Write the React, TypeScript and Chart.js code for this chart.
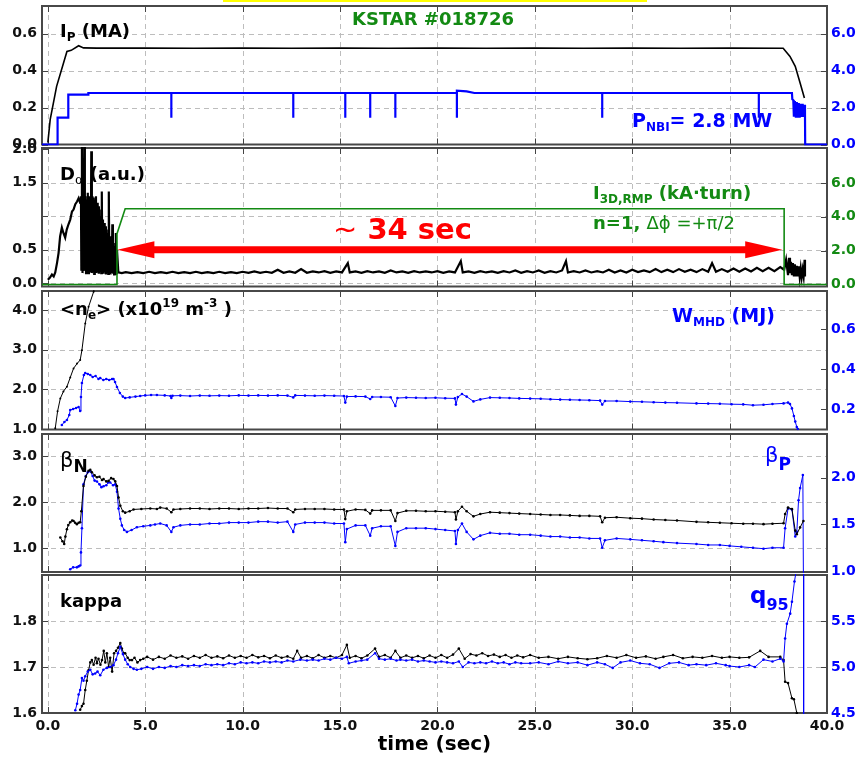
import React, { useEffect, useRef } from 'react';
import { Chart, registerables } from 'chart.js';
Chart.register(...registerables);

const FONT = "'DejaVu Sans', 'Liberation Sans', sans-serif";
const BLUE = '#0000ff';
const GREEN = '#138a13';
const RED = '#ff0000';

// ---------- axis ticks ----------
const xTicks = [0, 5, 10, 15, 20, 25, 30, 35, 40];
const xGrid = [0, 5, 10, 15, 20, 25, 30, 35];
const p1LeftTicks = [0, 0.2, 0.4, 0.6];
const p1RightTicks = [0, 2, 4, 6];
const p2LeftTicks = [0, 0.5, 1.5, 2.0];
const p2LeftGrid = [0, 0.5, 1.0, 1.5];
const p2RightTicks = [0, 2, 4, 6];
const p3LeftTicks = [1, 2, 3, 4];
const p3RightTicks = [0.2, 0.4, 0.6];
const p4LeftTicks = [1, 2, 3];
const p4RightTicks = [1.0, 1.5, 2.0];
const p5LeftTicks = [1.6, 1.7, 1.8];
const p5RightTicks = [4.5, 5.0, 5.5];

// RMP arrow (time span, D-alpha level)
const arrowSpan = [3.57, 37.7];
const arrowLevel = 0.5;

// ---------- series: [time (s), value] ----------
const ipSeries: number[][] = [
  [0.0, 0.01], [0.12, 0.135], [0.45, 0.315], [0.98, 0.504], [1.2, 0.51], [1.58, 0.535], [1.83, 0.523],
  [2.5, 0.522], [5, 0.522], [7.5, 0.521], [10, 0.522], [12.5, 0.521], [15, 0.522], [17.5, 0.521],
  [20, 0.522], [22.5, 0.521], [25, 0.522], [27.5, 0.521], [30, 0.522], [32.5, 0.521], [35, 0.522],
  [37.75, 0.521], [38.1, 0.477], [38.37, 0.423], [38.62, 0.333], [38.84, 0.252],
];

const nbiSeries: number[][] = [
  [-0.3, 0], [0.5, 0], [0.5, 1.45], [1.05, 1.45], [1.05, 2.7], [2.08, 2.7], [2.08, 2.79],
  [6.34, 2.79], [6.34, 1.45], [6.34, 2.79],
  [12.6, 2.79], [12.6, 1.45], [12.6, 2.79],
  [15.27, 2.79], [15.27, 1.45], [15.27, 2.79],
  [16.55, 2.79], [16.55, 1.45], [16.55, 2.79],
  [17.84, 2.79], [17.84, 1.45], [17.84, 2.79],
  [21.0, 2.79], [21.0, 1.45], [21.0, 2.92], [21.5, 2.88], [21.9, 2.79],
  [28.46, 2.79], [28.46, 1.45], [28.46, 2.79],
  [36.5, 2.79], [36.5, 1.45], [36.5, 2.79],
  [38.2, 2.79], [38.22, 2.45], [38.27, 2.4], [38.3, 1.5], [38.35, 2.35], [38.4, 1.45], [38.45, 2.3],
  [38.5, 1.45], [38.55, 2.25], [38.6, 1.45], [38.65, 2.2], [38.7, 1.5], [38.75, 2.2], [38.8, 1.5],
  [38.85, 2.15], [38.87, 1.6], [38.88, 0], [40, 0],
];

const dalphaSeries: number[][] = [
  [0.0, 0.05], [0.1, 0.08], [0.21, 0.13], [0.3, 0.1], [0.38, 0.16], [0.47, 0.3], [0.55, 0.45], [0.63, 0.7],
  [0.72, 0.83], [0.8, 0.75], [0.89, 0.68], [0.97, 0.8], [1.06, 0.88], [1.15, 0.95], [1.24, 1.07], [1.32, 1.1],
  [1.41, 1.18], [1.5, 1.22], [1.58, 1.27], [1.66, 1.2], [1.7, 1.3],
  [1.72, 0.2], [1.75, 2.05], [1.78, 0.15], [1.81, 1.4], [1.84, 0.18], [1.87, 2.05], [1.9, 0.2], [1.93, 1.3],
  [1.96, 0.15], [1.99, 1.25], [2.02, 0.17], [2.05, 1.35], [2.08, 0.15], [2.11, 1.3], [2.14, 0.2], [2.17, 1.3],
  [2.2, 0.16], [2.23, 1.97], [2.26, 0.15], [2.29, 1.3], [2.32, 0.18], [2.35, 1.28], [2.38, 0.14], [2.41, 1.25],
  [2.44, 0.2], [2.47, 1.3], [2.5, 0.15], [2.53, 1.2], [2.56, 0.17], [2.59, 1.15], [2.62, 0.14], [2.65, 1.1],
  [2.68, 0.18], [2.71, 1.0], [2.74, 0.15], [2.77, 1.37], [2.8, 0.16], [2.83, 0.95], [2.86, 0.14], [2.89, 0.9],
  [2.92, 0.17], [2.95, 0.85], [2.98, 0.13], [3.01, 0.8], [3.04, 0.16], [3.07, 0.75], [3.1, 0.14], [3.13, 1.37],
  [3.16, 0.15], [3.19, 0.7], [3.22, 0.13], [3.25, 0.65], [3.28, 0.15], [3.31, 0.88], [3.34, 0.14], [3.37, 0.6],
  [3.4, 0.13], [3.43, 0.55], [3.46, 0.14], [3.49, 0.75], [3.52, 0.15], [3.55, 0.5],
  [3.62, 0.16], [3.8, 0.15], [4.0, 0.165], [4.3, 0.15], [4.6, 0.165], [4.9, 0.15], [5.2, 0.17], [5.5, 0.15],
  [5.8, 0.165], [6.1, 0.15], [6.4, 0.17], [6.7, 0.15], [7.0, 0.165], [7.3, 0.15], [7.6, 0.17], [7.9, 0.15],
  [8.2, 0.165], [8.5, 0.15], [8.8, 0.17], [9.1, 0.15], [9.4, 0.165], [9.7, 0.15], [10.0, 0.17], [10.3, 0.155],
  [10.6, 0.175], [10.9, 0.155], [11.2, 0.17], [11.5, 0.155], [11.8, 0.2], [12.1, 0.155], [12.4, 0.175], [12.7, 0.155],
  [13.0, 0.21], [13.3, 0.155], [13.6, 0.175], [13.9, 0.16], [14.2, 0.18], [14.5, 0.155], [14.8, 0.175], [15.1, 0.16],
  [15.4, 0.3], [15.5, 0.16], [15.8, 0.175], [16.1, 0.155], [16.4, 0.18], [16.7, 0.16], [17.0, 0.175], [17.3, 0.155],
  [17.6, 0.19], [17.9, 0.16], [18.2, 0.175], [18.5, 0.155], [18.8, 0.18], [19.1, 0.16], [19.4, 0.175], [19.7, 0.16],
  [20.0, 0.18], [20.3, 0.155], [20.6, 0.175], [20.9, 0.16], [21.2, 0.33], [21.3, 0.16], [21.6, 0.175], [21.9, 0.155],
  [22.2, 0.18], [22.5, 0.16], [22.8, 0.175], [23.1, 0.155], [23.4, 0.18], [23.7, 0.16], [24.0, 0.19], [24.3, 0.155],
  [24.6, 0.18], [24.9, 0.16], [25.2, 0.19], [25.5, 0.155], [25.8, 0.18], [26.1, 0.16], [26.4, 0.19], [26.6, 0.33],
  [26.7, 0.16], [27.0, 0.18], [27.3, 0.16], [27.6, 0.19], [27.9, 0.16], [28.2, 0.18], [28.5, 0.16], [28.8, 0.2],
  [29.1, 0.16], [29.4, 0.19], [29.7, 0.16], [30.0, 0.2], [30.3, 0.165], [30.6, 0.19], [30.9, 0.165], [31.2, 0.21],
  [31.5, 0.165], [31.8, 0.2], [32.1, 0.165], [32.4, 0.21], [32.7, 0.17], [33.0, 0.2], [33.3, 0.165], [33.6, 0.21],
  [33.9, 0.17], [34.1, 0.3], [34.3, 0.17], [34.6, 0.21], [34.9, 0.17], [35.2, 0.22], [35.5, 0.17], [35.8, 0.22],
  [36.1, 0.175], [36.4, 0.23], [36.7, 0.18], [37.0, 0.23], [37.3, 0.18], [37.6, 0.24], [37.8, 0.2],
  [37.9, 0.35], [38.0, 0.12], [38.05, 0.38], [38.1, 0.15], [38.15, 0.32], [38.2, 0.12], [38.25, 0.3], [38.3, 0.1],
  [38.35, 0.28], [38.4, 0.1], [38.45, 0.26], [38.5, 0.1], [38.55, 0.25], [38.6, 0.09], [38.65, 0.22], [38.7, 0.09],
  [38.75, 0.2], [38.8, 0.1], [38.85, 0.35], [38.87, 0.1],
];

const rmpSeries: number[][] = [
  [-0.3, 0], [3.55, 0], [3.55, 3.0], [3.97, 4.47], [37.8, 4.47], [37.8, 0], [40, 0],
];

const neSeries: number[][] = [
  [0.38, 1.02], [0.5, 1.45], [0.64, 1.77], [0.8, 1.95], [0.98, 2.07], [1.15, 2.3], [1.32, 2.53], [1.5, 2.65],
  [1.66, 2.74], [1.75, 2.99], [1.92, 3.66], [2.09, 4.08], [2.35, 4.46], [2.45, 4.7],
];

const wmhdSeries: number[][] = [
  [0.72, 0.12], [0.85, 0.135], [0.98, 0.145], [1.1, 0.17], [1.15, 0.195], [1.3, 0.2], [1.45, 0.205], [1.58, 0.21],
  [1.66, 0.19], [1.7, 0.26], [1.75, 0.33], [1.85, 0.37], [1.92, 0.38], [2.05, 0.375], [2.18, 0.37], [2.3, 0.36],
  [2.45, 0.365], [2.6, 0.35], [2.69, 0.355], [2.85, 0.345], [3.0, 0.35], [3.15, 0.345], [3.3, 0.35], [3.37, 0.35],
  [3.45, 0.335], [3.55, 0.31], [3.7, 0.28], [3.85, 0.262], [3.97, 0.255], [4.2, 0.258], [4.5, 0.262], [4.74, 0.265],
  [5.0, 0.268], [5.3, 0.27], [5.6, 0.27], [6.0, 0.268], [6.3, 0.265], [6.34, 0.255], [6.4, 0.266], [6.8, 0.267],
  [7.3, 0.265], [7.8, 0.267], [8.3, 0.266], [8.8, 0.267], [9.3, 0.266], [9.8, 0.268], [10.3, 0.267], [10.8, 0.268],
  [11.3, 0.267], [11.8, 0.268], [12.3, 0.267], [12.6, 0.258], [12.7, 0.268], [13.2, 0.267], [13.7, 0.266],
  [14.2, 0.267], [14.7, 0.266], [15.2, 0.265], [15.27, 0.232], [15.35, 0.262], [15.8, 0.263], [16.3, 0.262],
  [16.55, 0.25], [16.65, 0.26], [17.1, 0.26], [17.6, 0.259], [17.84, 0.215], [17.95, 0.255], [18.4, 0.257],
  [18.9, 0.256], [19.4, 0.255], [19.9, 0.256], [20.4, 0.254], [20.9, 0.253], [20.95, 0.222], [21.05, 0.26],
  [21.26, 0.275], [21.5, 0.262], [21.85, 0.238], [22.2, 0.248], [22.7, 0.257], [23.2, 0.256], [23.7, 0.255],
  [24.2, 0.253], [24.76, 0.252], [25.3, 0.251], [25.8, 0.249], [26.3, 0.247], [26.8, 0.246], [27.3, 0.245],
  [27.8, 0.244], [28.35, 0.242], [28.46, 0.222], [28.6, 0.24], [29.2, 0.24], [29.9, 0.237], [30.5, 0.236],
  [31.1, 0.234], [31.7, 0.232], [32.3, 0.231], [33.3, 0.228], [33.9, 0.227], [34.5, 0.226], [35.1, 0.224],
  [35.7, 0.223], [36.2, 0.219], [36.74, 0.221], [37.2, 0.225], [37.77, 0.228], [38.0, 0.232], [38.1, 0.225],
  [38.2, 0.203], [38.3, 0.165], [38.37, 0.137], [38.45, 0.11], [38.5, 0.1],
];

const betaNSeries: number[][] = [
  [0.64, 1.23], [0.75, 1.15], [0.84, 1.09], [0.9, 1.25], [0.98, 1.41], [1.05, 1.5], [1.15, 1.56], [1.25, 1.6],
  [1.32, 1.59], [1.4, 1.55], [1.49, 1.52], [1.58, 1.55], [1.66, 1.56], [1.72, 1.8], [1.83, 2.35], [1.95, 2.55],
  [2.09, 2.68], [2.18, 2.7], [2.26, 2.65], [2.4, 2.58], [2.52, 2.54], [2.65, 2.55], [2.78, 2.48], [2.86, 2.5],
  [3.0, 2.45], [3.12, 2.46], [3.25, 2.52], [3.37, 2.5], [3.46, 2.45], [3.55, 2.35], [3.63, 2.1], [3.72, 1.92],
  [3.85, 1.8], [3.97, 1.77], [4.2, 1.8], [4.4, 1.84], [4.8, 1.85], [5.26, 1.86], [5.6, 1.85], [5.77, 1.88],
  [6.1, 1.86], [6.34, 1.78], [6.45, 1.84], [6.8, 1.85], [7.3, 1.86], [7.8, 1.86], [8.3, 1.85], [8.8, 1.86],
  [9.3, 1.86], [9.8, 1.85], [10.3, 1.86], [10.8, 1.86], [11.3, 1.87], [11.8, 1.86], [12.3, 1.86], [12.6, 1.78],
  [12.7, 1.84], [13.2, 1.85], [13.7, 1.85], [14.2, 1.85], [14.7, 1.84], [15.2, 1.84], [15.27, 1.63], [15.35, 1.8],
  [15.8, 1.84], [16.3, 1.83], [16.55, 1.75], [16.65, 1.82], [17.1, 1.82], [17.6, 1.82], [17.84, 1.59], [17.95, 1.76],
  [18.4, 1.81], [18.9, 1.81], [19.4, 1.8], [19.9, 1.8], [20.4, 1.79], [20.9, 1.78], [20.95, 1.62], [21.05, 1.8],
  [21.26, 1.9], [21.5, 1.8], [21.85, 1.69], [22.2, 1.74], [22.7, 1.78], [23.2, 1.77], [23.7, 1.76], [24.2, 1.75],
  [24.76, 1.74], [25.3, 1.73], [25.8, 1.72], [26.3, 1.72], [26.8, 1.71], [27.3, 1.7], [27.8, 1.7], [28.35, 1.69],
  [28.46, 1.56], [28.6, 1.66], [29.2, 1.67], [29.9, 1.65], [30.5, 1.64], [31.1, 1.62], [31.7, 1.61], [32.3, 1.6],
  [33.3, 1.57], [33.9, 1.56], [34.5, 1.55], [35.1, 1.54], [35.7, 1.53], [36.2, 1.53], [36.74, 1.52], [37.2, 1.53],
  [37.77, 1.54], [37.85, 1.74], [38.0, 1.88], [38.2, 1.85], [38.37, 1.38], [38.45, 1.3], [38.62, 1.45], [38.79, 1.59],
];

const betaPSeries: number[][] = [
  [1.15, 1.02], [1.3, 1.04], [1.49, 1.04], [1.58, 1.05], [1.66, 1.06], [1.7, 1.2], [1.75, 1.46], [1.83, 1.93],
  [1.95, 2.02], [2.05, 2.06], [2.18, 2.07], [2.3, 2.02], [2.4, 1.97], [2.52, 1.96], [2.65, 1.93], [2.75, 1.9],
  [2.86, 1.91], [3.0, 1.92], [3.1, 1.95], [3.2, 1.95], [3.35, 1.92], [3.46, 1.93], [3.55, 1.85], [3.63, 1.67],
  [3.72, 1.56], [3.8, 1.49], [3.92, 1.44], [4.06, 1.42], [4.3, 1.44], [4.57, 1.47], [4.9, 1.48], [5.26, 1.49],
  [5.5, 1.5], [5.77, 1.51], [6.1, 1.49], [6.34, 1.42], [6.45, 1.47], [6.8, 1.49], [7.3, 1.5], [7.8, 1.5],
  [8.3, 1.51], [8.8, 1.51], [9.3, 1.52], [9.8, 1.52], [10.3, 1.52], [10.8, 1.53], [11.3, 1.53], [11.8, 1.52],
  [12.3, 1.53], [12.6, 1.42], [12.7, 1.5], [13.2, 1.52], [13.7, 1.52], [14.2, 1.52], [14.7, 1.51], [15.2, 1.51],
  [15.27, 1.31], [15.35, 1.45], [15.8, 1.49], [16.3, 1.49], [16.55, 1.38], [16.65, 1.46], [17.1, 1.48], [17.6, 1.48],
  [17.84, 1.27], [17.95, 1.42], [18.4, 1.46], [18.9, 1.46], [19.4, 1.46], [19.9, 1.45], [20.4, 1.44], [20.9, 1.43],
  [20.95, 1.29], [21.05, 1.44], [21.26, 1.51], [21.5, 1.42], [21.85, 1.34], [22.2, 1.38], [22.7, 1.41], [23.2, 1.4],
  [23.7, 1.4], [24.2, 1.39], [24.76, 1.39], [25.3, 1.38], [25.8, 1.37], [26.3, 1.37], [26.8, 1.36], [27.3, 1.36],
  [27.8, 1.35], [28.35, 1.35], [28.46, 1.25], [28.6, 1.33], [29.2, 1.35], [29.9, 1.34], [30.5, 1.33], [31.1, 1.32],
  [31.6, 1.31], [32.3, 1.3], [33.3, 1.29], [33.9, 1.28], [34.5, 1.28], [35.0, 1.27], [35.6, 1.26], [36.2, 1.25],
  [36.74, 1.24], [37.2, 1.25], [37.77, 1.25], [37.85, 1.46], [38.0, 1.67], [38.2, 1.66], [38.37, 1.37], [38.45, 1.42],
  [38.54, 1.76], [38.62, 1.89], [38.76, 2.03], [38.8, 0.5],
];

const kappaSeries: number[][] = [
  [1.66, 1.607], [1.75, 1.615], [1.83, 1.62], [1.92, 1.65], [2.0, 1.67], [2.09, 1.693], [2.18, 1.71], [2.26, 1.715],
  [2.35, 1.705], [2.45, 1.72], [2.52, 1.708], [2.6, 1.718], [2.7, 1.705], [2.78, 1.715], [2.87, 1.735], [2.95, 1.71],
  [3.03, 1.73], [3.12, 1.7], [3.2, 1.72], [3.3, 1.69], [3.4, 1.73], [3.5, 1.735], [3.6, 1.742], [3.72, 1.752],
  [3.8, 1.74], [3.9, 1.73], [3.97, 1.73], [4.1, 1.72], [4.2, 1.715], [4.32, 1.715], [4.45, 1.72], [4.6, 1.71],
  [4.74, 1.715], [4.9, 1.718], [5.1, 1.722], [5.4, 1.716], [5.7, 1.722], [6.0, 1.718], [6.3, 1.725], [6.6, 1.72],
  [6.9, 1.723], [7.2, 1.718], [7.5, 1.724], [7.8, 1.72], [8.1, 1.726], [8.4, 1.72], [8.7, 1.723], [9.0, 1.719],
  [9.3, 1.725], [9.6, 1.72], [9.9, 1.724], [10.2, 1.72], [10.5, 1.726], [10.8, 1.721], [11.1, 1.724], [11.4, 1.719],
  [11.7, 1.725], [12.0, 1.72], [12.3, 1.723], [12.6, 1.718], [12.8, 1.735], [13.0, 1.72], [13.3, 1.724], [13.6, 1.719],
  [13.9, 1.726], [14.2, 1.72], [14.5, 1.724], [14.8, 1.72], [15.1, 1.726], [15.35, 1.748], [15.5, 1.72], [15.8, 1.724],
  [16.1, 1.719], [16.4, 1.725], [16.8, 1.74], [17.0, 1.722], [17.3, 1.726], [17.6, 1.72], [17.84, 1.735], [18.1, 1.72],
  [18.4, 1.725], [18.7, 1.72], [19.0, 1.724], [19.3, 1.719], [19.6, 1.725], [19.9, 1.72], [20.2, 1.726], [20.5, 1.72],
  [20.8, 1.727], [21.1, 1.74], [21.4, 1.718], [21.7, 1.728], [22.0, 1.725], [22.3, 1.73], [22.6, 1.724], [22.9, 1.727],
  [23.2, 1.722], [23.5, 1.726], [23.8, 1.72], [24.1, 1.725], [24.4, 1.721], [24.76, 1.726], [25.2, 1.72], [25.7, 1.722],
  [26.2, 1.718], [26.7, 1.722], [27.2, 1.719], [27.7, 1.717], [28.2, 1.719], [28.7, 1.724], [29.2, 1.72], [29.7, 1.726],
  [30.2, 1.72], [30.7, 1.723], [31.2, 1.718], [31.6, 1.722], [32.1, 1.726], [32.6, 1.719], [33.1, 1.722], [33.6, 1.72],
  [34.1, 1.724], [34.6, 1.72], [35.0, 1.722], [35.5, 1.72], [36.0, 1.721], [36.57, 1.735], [37.0, 1.722], [37.6, 1.722],
  [37.77, 1.715], [37.85, 1.668], [38.0, 1.665], [38.2, 1.632], [38.3, 1.63], [38.45, 1.6], [38.55, 1.58],
];

const q95Series: number[][] = [
  [1.41, 4.53], [1.5, 4.6], [1.58, 4.7], [1.66, 4.75], [1.75, 4.88], [1.83, 4.85], [1.92, 4.9], [2.05, 4.95],
  [2.18, 4.97], [2.3, 4.92], [2.43, 4.93], [2.55, 4.95], [2.69, 4.91], [2.85, 4.97], [3.03, 4.99], [3.2, 5.0],
  [3.37, 5.02], [3.5, 5.08], [3.6, 5.15], [3.72, 5.22], [3.85, 5.14], [3.97, 5.08], [4.1, 5.03], [4.23, 5.0],
  [4.4, 4.98], [4.57, 4.97], [4.8, 4.98], [5.1, 5.0], [5.4, 4.98], [5.7, 5.0], [6.0, 4.99], [6.3, 5.01], [6.6, 5.0],
  [6.9, 5.02], [7.2, 5.01], [7.5, 5.02], [7.8, 5.01], [8.1, 5.03], [8.4, 5.02], [8.7, 5.03], [9.0, 5.02], [9.3, 5.04],
  [9.6, 5.03], [9.9, 5.05], [10.2, 5.04], [10.5, 5.05], [10.8, 5.04], [11.1, 5.06], [11.4, 5.05], [11.7, 5.06],
  [12.0, 5.05], [12.3, 5.07], [12.6, 5.06], [12.96, 5.08], [13.3, 5.07], [13.6, 5.08], [13.9, 5.07], [14.2, 5.09],
  [14.5, 5.08], [14.8, 5.1], [15.1, 5.09], [15.35, 5.11], [15.45, 5.04], [15.8, 5.06], [16.1, 5.07], [16.4, 5.08],
  [16.8, 5.15], [17.0, 5.09], [17.3, 5.08], [17.6, 5.09], [17.9, 5.07], [18.1, 5.08], [18.4, 5.07], [18.7, 5.08],
  [19.0, 5.06], [19.3, 5.07], [19.6, 5.06], [19.9, 5.05], [20.2, 5.06], [20.5, 5.05], [20.8, 5.04], [21.1, 5.06],
  [21.3, 5.0], [21.6, 5.05], [21.9, 5.04], [22.2, 5.05], [22.5, 5.04], [22.8, 5.06], [23.1, 5.04], [23.4, 5.05],
  [23.7, 5.03], [24.0, 5.05], [24.3, 5.04], [24.76, 5.04], [25.2, 5.05], [25.7, 5.03], [26.2, 5.06], [26.7, 5.04],
  [27.2, 5.05], [27.7, 5.02], [28.2, 5.05], [28.6, 5.03], [29.0, 4.99], [29.4, 5.05], [29.9, 5.07], [30.4, 5.04],
  [30.9, 5.03], [31.4, 4.99], [31.9, 5.04], [32.4, 5.05], [32.9, 5.02], [33.3, 5.03], [33.8, 5.02], [34.3, 5.04],
  [34.8, 5.02], [35.0, 5.01], [35.5, 5.0], [36.0, 5.02], [36.3, 5.0], [36.74, 5.08], [37.2, 5.06], [37.6, 5.09],
  [37.77, 5.06], [37.85, 5.31], [37.94, 5.47], [38.11, 5.58], [38.2, 5.71], [38.33, 5.93], [38.4, 6.02],
  [38.8, 9.0], [38.8, 3.0],
];

// ---------- panel definitions ----------
type S = { data: number[][]; axis: 'yL' | 'yR'; color: string; width: number; radius: number };
type P = {
  top: number; height: number; padTop: number; padBottom: number; showX: boolean;
  lMin: number; lMax: number; lTicks: number[]; lGrid: number[];
  rMin: number; rMax: number; rTicks: number[]; rColor: string;
  series: S[]; arrow?: boolean;
};

const PANELS: P[] = [
  {
    top: 0, height: 160, padTop: 6, padBottom: 15.5, showX: false,
    lMin: 0, lMax: 0.75, lTicks: p1LeftTicks, lGrid: [0.2, 0.4, 0.6],
    rMin: 0, rMax: 7.5, rTicks: p1RightTicks, rColor: BLUE,
    series: [
      { data: nbiSeries, axis: 'yR', color: BLUE, width: 2.2, radius: 0 },
      { data: ipSeries, axis: 'yL', color: '#000', width: 1.6, radius: 0 },
    ],
  },
  {
    top: 136, height: 165, padTop: 12, padBottom: 14.5, showX: false,
    lMin: -0.05, lMax: 2.02, lTicks: p2LeftTicks, lGrid: p2LeftGrid,
    rMin: -0.12, rMax: 8.06, rTicks: p2RightTicks, rColor: GREEN,
    series: [
      { data: rmpSeries, axis: 'yR', color: GREEN, width: 1.6, radius: 0 },
      { data: dalphaSeries, axis: 'yL', color: '#000', width: 2.2, radius: 0 },
    ],
    arrow: true,
  },
  {
    top: 279, height: 165, padTop: 12, padBottom: 14.5, showX: false,
    lMin: 0.99, lMax: 4.48, lTicks: p3LeftTicks, lGrid: [2, 3, 4],
    rMin: 0.0975, rMax: 0.79, rTicks: p3RightTicks, rColor: BLUE,
    series: [
      { data: neSeries, axis: 'yL', color: '#000', width: 1, radius: 1 },
      { data: wmhdSeries, axis: 'yR', color: BLUE, width: 1, radius: 1.3 },
    ],
  },
  {
    top: 422, height: 165, padTop: 12, padBottom: 15, showX: false,
    lMin: 0.48, lMax: 3.48, lTicks: p4LeftTicks, lGrid: [1, 2, 3],
    rMin: 0.99, rMax: 2.47, rTicks: p4RightTicks, rColor: BLUE,
    series: [
      { data: betaNSeries, axis: 'yL', color: '#000', width: 1, radius: 1.3 },
      { data: betaPSeries, axis: 'yR', color: BLUE, width: 1, radius: 1.3 },
    ],
  },
  {
    top: 563, height: 194, padTop: 12, padBottom: 0, showX: true,
    lMin: 1.6, lMax: 1.9, lTicks: p5LeftTicks, lGrid: [1.7, 1.8],
    rMin: 4.5, rMax: 6.0, rTicks: p5RightTicks, rColor: BLUE,
    series: [
      { data: q95Series, axis: 'yR', color: BLUE, width: 1, radius: 1.3 },
      { data: kappaSeries, axis: 'yL', color: '#000', width: 1, radius: 1.3 },
    ],
  },
];

const framePlugin = {
  id: 'frame',
  beforeDatasetsDraw(chart: any, _a: any, o: any) {
    const { ctx, chartArea: a, scales } = chart;
    ctx.save();
    ctx.beginPath();
    ctx.rect(a.left, a.top, a.right - a.left, a.bottom - a.top);
    ctx.clip();
    ctx.strokeStyle = '#bdbdbd';
    ctx.lineWidth = 1;
    ctx.setLineDash([5, 4]);
    ctx.beginPath();
    for (const v of o.xGrid) {
      const p = Math.round(scales.x.getPixelForValue(v)) + 0.5;
      ctx.moveTo(p, a.top); ctx.lineTo(p, a.bottom);
    }
    for (const v of o.yGrid) {
      const p = Math.round(scales.yL.getPixelForValue(v)) + 0.5;
      ctx.moveTo(a.left, p); ctx.lineTo(a.right, p);
    }
    ctx.stroke();
    ctx.restore();

    ctx.save();
    ctx.strokeStyle = '#444';
    ctx.lineWidth = 1;
    ctx.beginPath();
    const tl = 6;
    for (const v of xTicks) {
      const p = Math.round(scales.x.getPixelForValue(v)) + 0.5;
      ctx.moveTo(p, a.top); ctx.lineTo(p, a.top + tl);
      ctx.moveTo(p, a.bottom); ctx.lineTo(p, a.bottom - tl);
    }
    for (const v of o.lMarks) {
      const p = Math.round(scales.yL.getPixelForValue(v)) + 0.5;
      ctx.moveTo(a.left, p); ctx.lineTo(a.left + tl, p);
    }
    for (const v of o.rMarks) {
      const p = Math.round(scales.yR.getPixelForValue(v)) + 0.5;
      ctx.moveTo(a.right, p); ctx.lineTo(a.right - tl, p);
    }
    ctx.stroke();
    ctx.lineWidth = 2;
    ctx.strokeStyle = '#484848';
    ctx.strokeRect(a.left, a.top, a.right - a.left, a.bottom - a.top);
    ctx.restore();
  },
  afterDatasetsDraw(chart: any, _a: any, o: any) {
    if (!o.arrow) return;
    const { ctx, scales } = chart;
    const x1 = scales.x.getPixelForValue(arrowSpan[0]);
    const x2 = scales.x.getPixelForValue(arrowSpan[1]);
    const y = scales.yL.getPixelForValue(arrowLevel);
    const hl = 37, hw = 8.5, sw = 3.5;
    ctx.save();
    ctx.fillStyle = RED;
    ctx.beginPath();
    ctx.moveTo(x1, y);
    ctx.lineTo(x1 + hl, y - hw); ctx.lineTo(x1 + hl, y - sw);
    ctx.lineTo(x2 - hl, y - sw); ctx.lineTo(x2 - hl, y - hw);
    ctx.lineTo(x2, y);
    ctx.lineTo(x2 - hl, y + hw); ctx.lineTo(x2 - hl, y + sw);
    ctx.lineTo(x1 + hl, y + sw); ctx.lineTo(x1 + hl, y + hw);
    ctx.closePath();
    ctx.fill();
    ctx.restore();
  },
};

const tickFont = { family: FONT, size: 14, weight: 'bold' as const };

function buildConfig(p: P): any {
  return {
    type: 'line',
    data: {
      datasets: p.series.map((s) => ({
        data: s.data.map(([x, y]) => ({ x, y })),
        yAxisID: s.axis,
        borderColor: s.color,
        backgroundColor: s.color,
        borderWidth: s.width,
        pointRadius: s.radius,
        pointBorderWidth: 0,
        pointBackgroundColor: s.color,
        pointHoverRadius: 0,
        fill: false,
        tension: 0,
        clip: 1,
      })),
    },
    options: {
      animation: false,
      responsive: false,
      maintainAspectRatio: false,
      events: [],
      layout: { padding: { top: p.padTop, bottom: p.padBottom, left: 0, right: 0 } },
      plugins: {
        legend: { display: false },
        tooltip: { enabled: false },
        frame: { xGrid, yGrid: p.lGrid, lMarks: p.lGrid.concat(p.lTicks), rMarks: p.rTicks, arrow: !!p.arrow },
      },
      scales: {
        x: {
          type: 'linear', min: -0.3, max: 40, display: p.showX,
          grid: { display: false, drawTicks: false }, border: { display: false },
          afterBuildTicks: (s: any) => { s.ticks = xTicks.map((v) => ({ value: v })); },
          ticks: { font: tickFont, color: '#111', padding: 5, maxRotation: 0, autoSkip: false, callback: (v: any) => Number(v).toFixed(1) },
          title: { display: p.showX, text: 'time (sec)', color: '#000', font: { family: FONT, size: 20, weight: 'bold' }, padding: { top: 0, bottom: 0 } },
          afterFit: (s: any) => { s.height = p.showX ? 44 : 0; s.paddingLeft = 0; s.paddingRight = 0; },
        },
        yL: {
          type: 'linear', position: 'left', min: p.lMin, max: p.lMax,
          grid: { display: false, drawTicks: false }, border: { display: false },
          afterBuildTicks: (s: any) => { s.ticks = p.lTicks.map((v) => ({ value: v })); },
          ticks: { font: tickFont, color: '#111', padding: 5, autoSkip: false, callback: (v: any) => Number(v).toFixed(1) },
          afterFit: (s: any) => { s.width = 42; s.paddingTop = 0; s.paddingBottom = 0; },
        },
        yR: {
          type: 'linear', position: 'right', min: p.rMin, max: p.rMax,
          grid: { display: false, drawTicks: false }, border: { display: false },
          afterBuildTicks: (s: any) => { s.ticks = p.rTicks.map((v) => ({ value: v })); },
          ticks: { font: tickFont, color: p.rColor, padding: 4, autoSkip: false, callback: (v: any) => Number(v).toFixed(1) },
          afterFit: (s: any) => { s.width = 29; s.paddingTop = 0; s.paddingBottom = 0; },
        },
      },
    },
    plugins: [framePlugin],
  };
}

function Txt(props: { x: number; base: number; fs: number; color?: string; weight?: string; children: any }) {
  const { x, base, fs, color = '#000', weight = 'bold', children } = props;
  return (
    <div style={{ position: 'absolute', left: x, top: base - 0.846 * fs, fontSize: fs, lineHeight: 1, fontFamily: FONT, fontWeight: weight as any, color, whiteSpace: 'nowrap' }}>
      {children}
    </div>
  );
}

function Sub(props: { fs: number; dy: number; weight?: string; children: any }) {
  return (
    <span style={{ fontSize: props.fs, position: 'relative', top: props.dy, fontWeight: (props.weight || 'bold') as any }}>{props.children}</span>
  );
}

export default function App() {
  const r0 = useRef<HTMLCanvasElement>(null);
  const r1 = useRef<HTMLCanvasElement>(null);
  const r2 = useRef<HTMLCanvasElement>(null);
  const r3 = useRef<HTMLCanvasElement>(null);
  const r4 = useRef<HTMLCanvasElement>(null);
  const refs = [r0, r1, r2, r3, r4];

  useEffect(() => {
    const charts = PANELS.map((p, i) => new Chart(refs[i].current as HTMLCanvasElement, buildConfig(p)));
    return () => charts.forEach((c) => c.destroy());
  }, []);

  return (
    <div style={{ position: 'absolute', left: 0, top: 0, width: 856, height: 757, background: '#fff', overflow: 'hidden' }}>
      <div style={{ position: 'absolute', left: 223, top: 0, width: 424, height: 2, background: '#ffff00' }} />
      {PANELS.map((p, i) => (
        <canvas key={i} ref={refs[i]} width={856} height={p.height}
          style={{ position: 'absolute', left: 0, top: p.top, width: 856, height: p.height }} />
      ))}

      <Txt x={352} base={25} fs={18} color={GREEN}>KSTAR #018726</Txt>
      <Txt x={60} base={37.5} fs={18}>I<Sub fs={12} dy={4}>P</Sub> (MA)</Txt>
      <Txt x={632} base={127} fs={19} color={BLUE}>P<Sub fs={12} dy={4}>NBI</Sub>= 2.8 MW</Txt>

      <Txt x={60} base={180} fs={18}>D<Sub fs={13} dy={4} weight="normal">α</Sub> (a.u.)</Txt>
      <Txt x={593} base={199} fs={18} color={GREEN}>I<Sub fs={12} dy={4}>3D,RMP</Sub> (kA·turn)</Txt>
      <Txt x={593} base={229} fs={18} color={GREEN}>n=1, <span style={{ fontWeight: 'normal' }}>Δϕ =+π/2</span></Txt>
      <Txt x={333} base={240} fs={29} color={RED}><span style={{ fontWeight: 'normal' }}>~</span> 34 sec</Txt>

      <Txt x={60} base={315} fs={18}>&lt;n<Sub fs={12} dy={4}>e</Sub>&gt; (x10<Sub fs={12} dy={-8}>19</Sub> m<Sub fs={12} dy={-8}>-3</Sub> )</Txt>
      <Txt x={672} base={322} fs={19} color={BLUE}>W<Sub fs={12} dy={4}>MHD</Sub> (MJ)</Txt>

      <Txt x={60} base={468} fs={21} weight="normal">β<Sub fs={17} dy={5}>N</Sub></Txt>
      <Txt x={765} base={463} fs={21} weight="normal" color={BLUE}>β<Sub fs={17} dy={8}>P</Sub></Txt>

      <Txt x={60} base={607} fs={18}>kappa</Txt>
      <Txt x={750} base={603} fs={23} color={BLUE}>q<Sub fs={16} dy={7}>95</Sub></Txt>
    </div>
  );
}
